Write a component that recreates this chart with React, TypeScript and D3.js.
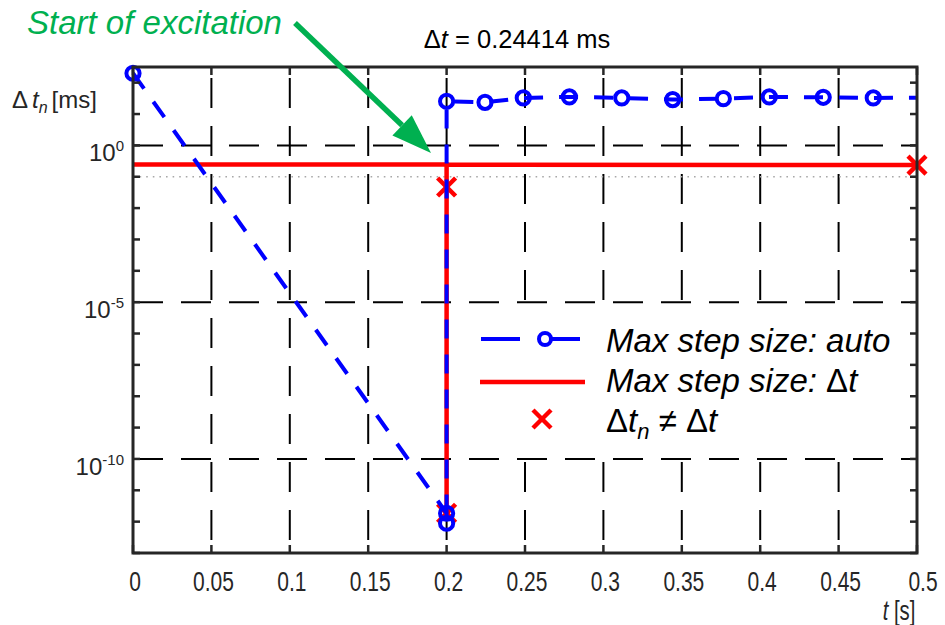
import React from 'react';
import * as d3 from 'd3';

// ---- data ----
const xTickValues = [0, 0.05, 0.1, 0.15, 0.2, 0.25, 0.3, 0.35, 0.4, 0.45, 0.5];
const xTickLabels = ['0', '0.05', '0.1', '0.15', '0.2', '0.25', '0.3', '0.35', '0.4', '0.45', '0.5'];
const yMinorExps = [-13, -12, -11, -10, -9, -8, -7, -6, -5, -4, -3, -2, -1, 0, 1, 2];
const yLabelExps = [0, -5, -10];

// "Max step size: auto" (blue), step size in ms at time t in s
const autoT = [0, 0.2, 0.2, 0.2, 0.2245, 0.2489, 0.2783, 0.3117, 0.3442, 0.3765, 0.4058, 0.4402, 0.4721, 0.505];
const autoDt = [200, 1.85e-12, 8.9e-13, 25.5, 23.6, 32.7, 35.2, 32.7, 28.9, 31.0, 35.2, 34.2, 32.7, 33];

// "Max step size: Δt" (red)
const fixedT = [0, 0.2, 0.2, 0.2, 0.2, 0.5];
const fixedDt = [0.24414, 0.24414, 0.047, 1.85e-12, 0.24414, 0.235];

// steps where Δt_n ≠ Δt
const crossT = [0.2, 0.2, 0.5];
const crossDt = [0.047, 1.85e-12, 0.235];

const dottedLevel = 0.1;

const W = 945;
const H = 625;
const plot = { left: 133, right: 917, top: 67, bottom: 553 };
const FONT = '"Liberation Sans", Arial, Helvetica, sans-serif';
const AX = '#262626';
const BLUE = '#0000ff';
const RED = '#ff0000';
const GREEN = '#00b050';

const x = d3.scaleLinear().domain([0, 0.5]).range([plot.left, plot.right]);
const y = d3.scaleLog().domain([1e-13, Math.pow(10, 2.5)]).range([plot.bottom, plot.top]);

type P = [number, number];
const line = d3.line<P>().x(d => x(d[0])).y(d => y(d[1]));

const autoPts: P[] = autoT.map((t, i) => [t, autoDt[i]]);
const fixedPts: P[] = fixedT.map((t, i) => [t, fixedDt[i]]);
const crossPts: P[] = crossT.map((t, i) => [t, crossDt[i]]);

const Cross = ({ cx, cy, s = 9 }: { cx: number; cy: number; s?: number }) => (
  <g stroke={RED} strokeWidth={4.5}>
    <line x1={cx - s} y1={cy - s} x2={cx + s} y2={cy + s} />
    <line x1={cx - s} y1={cy + s} x2={cx + s} y2={cy - s} />
  </g>
);

// arrow for the annotation
const arrowFrom: P = [295, 23];
const arrowTip: P = [431, 153];
const arrowHead = (() => {
  const dx = arrowTip[0] - arrowFrom[0];
  const dy = arrowTip[1] - arrowFrom[1];
  const len = Math.hypot(dx, dy);
  const ux = dx / len, uy = dy / len;
  const bx = arrowTip[0] - 40 * ux, by = arrowTip[1] - 40 * uy;
  const px = -uy * 14, py = ux * 14;
  return { base: [bx, by], pts: `${arrowTip[0]},${arrowTip[1]} ${bx + px},${by + py} ${bx - px},${by - py}` };
})();

export default function App() {
  return (
    <svg width={W} height={H} style={{ position: 'absolute', left: 0, top: 0, background: '#fff' }} fontFamily={FONT}>
      <defs>
        <clipPath id="plotClip">
          <rect x={plot.left} y={plot.top} width={plot.right - plot.left} height={plot.bottom - plot.top} />
        </clipPath>
      </defs>
      <rect x={0} y={0} width={W} height={H} fill="#fff" />

      {/* grid */}
      <g stroke="#000" strokeWidth={2} strokeDasharray="30,18">
        {xTickValues.slice(1, -1).map(t => (
          <line key={t} x1={x(t)} x2={x(t)} y1={plot.bottom} y2={plot.top} strokeDashoffset={35} />
        ))}
        {yLabelExps.map(e => (
          <line key={e} x1={plot.left} x2={plot.right} y1={y(Math.pow(10, e))} y2={y(Math.pow(10, e))} />
        ))}
      </g>
      <line x1={plot.left} x2={plot.right} y1={y(dottedLevel)} y2={y(dottedLevel)}
        stroke="#a8a8a8" strokeWidth={1.6} strokeDasharray="1.6,5" />

      {/* legend background covers grid */}
      <rect x={463} y={315} width={452} height={133} fill="#fff" />

      {/* data */}
      <g clipPath="url(#plotClip)" fill="none">
        <path d={line(fixedPts) || ''} stroke={RED} strokeWidth={4.5} />
      </g>
      {crossPts.map((p, i) => <Cross key={i} cx={x(p[0])} cy={y(p[1])} />)}
      <g clipPath="url(#plotClip)" fill="none">
        <path d={line(autoPts) || ''} stroke={BLUE} strokeWidth={4} strokeDasharray="19,16" />
      </g>
      {autoPts.filter(p => p[0] <= 0.5).map((p, i) => (
        <circle key={i} cx={x(p[0])} cy={y(p[1])} r={6.6} fill="none" stroke={BLUE} strokeWidth={4} />
      ))}

      {/* axes box and ticks */}
      <rect x={plot.left} y={plot.top} width={plot.right - plot.left} height={plot.bottom - plot.top}
        fill="none" stroke={AX} strokeWidth={3} />
      <g stroke={AX} strokeWidth={2.5}>
        {xTickValues.map(t => (
          <g key={t}>
            <line x1={x(t)} x2={x(t)} y1={plot.bottom} y2={plot.bottom - 8} />
            <line x1={x(t)} x2={x(t)} y1={plot.top} y2={plot.top + 8} />
          </g>
        ))}
        {yMinorExps.map(e => (
          <g key={e}>
            <line x1={plot.left} x2={plot.left + 7} y1={y(Math.pow(10, e))} y2={y(Math.pow(10, e))} />
            <line x1={plot.right} x2={plot.right - 7} y1={y(Math.pow(10, e))} y2={y(Math.pow(10, e))} />
          </g>
        ))}
      </g>

      {/* tick labels */}
      {xTickValues.map((t, i) => (
        <text key={t} transform={`translate(${x(t) + (i === xTickValues.length - 1 ? 6 : 2)},591) scale(0.75,1)`}
          textAnchor="middle" fontSize={28} fill={AX}>
          {xTickLabels[i]}
        </text>
      ))}
      {yLabelExps.map(e => (
        <text key={e} x={124} y={y(Math.pow(10, e)) + 16} textAnchor="end" fontSize={24} fill={AX}>
          10<tspan dy={-10} fontSize={15}>{e}</tspan>
        </text>
      ))}

      {/* axis labels */}
      <text transform="translate(899,620) scale(0.75,1)" textAnchor="middle" fontSize={27} fill={AX}>
        <tspan fontStyle="italic">t</tspan> [s]
      </text>
      <text x={12} y={108} fontSize={24} fill={AX}>
        Δ<tspan dx={4} fontStyle="italic">t</tspan><tspan fontStyle="italic" fontSize={16} dy={5}>n</tspan>
        <tspan dy={-5} dx={4}>[ms]</tspan>
      </text>

      {/* title */}
      <text x={517} y={48} textAnchor="middle" fontSize={25.5} fill="#000">
        Δ<tspan fontStyle="italic">t</tspan> = 0.24414 ms
      </text>

      {/* annotation */}
      <text x={27} y={34} fontSize={33} fontStyle="italic" fill={GREEN}>Start of excitation</text>
      <line x1={arrowFrom[0]} y1={arrowFrom[1]} x2={arrowHead.base[0]} y2={arrowHead.base[1]} stroke={GREEN} strokeWidth={5.5} />
      <polygon points={arrowHead.pts} fill={GREEN} />

      {/* legend */}
      <g>
        <line x1={481} x2={520} y1={339} y2={339} stroke={BLUE} strokeWidth={4} />
        <line x1={549} x2={580} y1={339} y2={339} stroke={BLUE} strokeWidth={4} />
        <circle cx={545} cy={339} r={6} fill="none" stroke={BLUE} strokeWidth={4} />
        <text x={606} y={352} fontSize={33} fontStyle="italic" fill="#000">Max step size: auto</text>

        <line x1={480} x2={585} y1={382} y2={382} stroke={RED} strokeWidth={4.5} />
        <text x={606} y={392} fontSize={33} fontStyle="italic" fill="#000">
          Max step size: <tspan fontStyle="normal">Δ</tspan>t
        </text>

        <Cross cx={542} cy={419} />
        <text x={606} y={432} fontSize={33} fill="#000">
          Δ<tspan fontStyle="italic">t</tspan><tspan fontStyle="italic" fontSize={22} dy={7}>n</tspan>
          <tspan dy={-7}> ≠ Δ</tspan><tspan fontStyle="italic">t</tspan>
        </text>
      </g>
    </svg>
  );
}
